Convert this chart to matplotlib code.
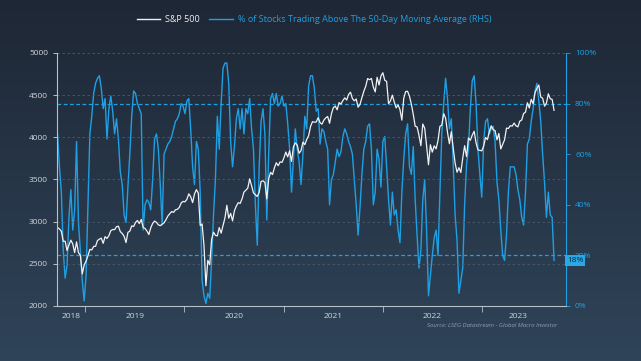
import numpy as np
import pandas as pd
import matplotlib
matplotlib.use('Agg')
import matplotlib.pyplot as plt
import matplotlib.dates as mdates
from matplotlib.colors import LinearSegmentedColormap
from matplotlib.lines import Line2D

plt.rcParams['font.family'] = ['Open Sans', 'DejaVu Sans']

# weekly closes, first week ending 2018-09-21
start_date = '2018-09-21'

sp500 = [
    # 2018
    2930, 2914, 2886, 2767, 2768, 2658, 2723, 2781, 2736, 2633, 2760, 2633, 2600, 2380, 2486,
    # 2019
    2532, 2596, 2671, 2665, 2707, 2708, 2776, 2793, 2804, 2743, 2822, 2801, 2834,
    2893, 2907, 2905, 2940, 2946, 2881, 2860, 2826, 2752, 2873, 2887, 2950, 2942,
    2990, 3014, 2977, 3026, 2932, 2919, 2889, 2847, 2926, 2979, 3007, 2992, 2962,
    2952, 2970, 2986, 3023, 3067, 3093, 3120, 3110, 3141, 3146, 3169, 3221, 3240,
    # 2020
    3235, 3265, 3330, 3295, 3226, 3328, 3380, 3338, 2954, 2972, 2711, 2240, 2541,
    2489, 2790, 2875, 2837, 2831, 2930, 2864, 2955, 3044, 3194, 3041, 3098, 3009,
    3130, 3185, 3225, 3216, 3271, 3351, 3373, 3397, 3508, 3427, 3341, 3319, 3298,
    3348, 3477, 3484, 3465, 3270, 3510, 3585, 3558, 3638, 3699, 3663, 3709, 3703, 3756,
    # 2021
    3825, 3768, 3841, 3714, 3887, 3934, 3907, 3811, 3842, 3943, 3913, 3975,
    4020, 4129, 4185, 4180, 4181, 4233, 4174, 4156, 4204, 4230, 4247, 4166, 4281,
    4352, 4370, 4327, 4412, 4395, 4437, 4468, 4442, 4509, 4535, 4459, 4433, 4455,
    4357, 4391, 4471, 4545, 4605, 4697, 4683, 4698, 4595, 4538, 4712, 4620, 4726, 4766,
    # 2022
    4677, 4663, 4398, 4432, 4500, 4419, 4349, 4385, 4329, 4204, 4463, 4543,
    4546, 4488, 4392, 4272, 4132, 4123, 4024, 3901, 4158, 4109, 3901, 3675, 3912,
    3825, 3899, 3863, 3962, 4130, 4145, 4280, 4228, 4058, 3924, 4067, 3873, 3693, 3586,
    3640, 3583, 3753, 3901, 3771, 3993, 3965, 4026, 4072, 3934, 3852, 3845, 3840,
    # 2023
    3895, 3999, 3973, 4071, 4136, 4090, 4079, 3970, 4046, 3862, 3917, 3971, 4109,
    4105, 4138, 4133, 4169, 4136, 4124, 4192, 4205, 4282, 4299, 4410, 4348, 4450,
    4399, 4530, 4580, 4620, 4478, 4464, 4370, 4406, 4516, 4457, 4450, 4320,
]

pct_above = [
    68, 55, 45, 22, 11, 16, 35, 46, 30, 38, 65, 33, 22, 10, 2, 12, 40, 68, 75, 84,
    88, 90, 91, 86, 78, 82, 66, 78, 83, 77, 68, 74, 66, 53, 48, 36, 33, 47, 60, 75,
    85, 84, 80, 78, 76,
    30, 40, 42, 41, 38, 50, 66, 68, 62, 48, 32, 60, 62, 64, 65, 67, 70, 73, 74, 76,
    80, 79, 76, 81, 82, 70, 55, 48, 65, 62, 45, 10, 4, 1, 5, 3, 18, 36, 50, 75,
    62, 80, 94, 96,
    96, 88, 65, 55, 63, 74, 78, 70, 78, 68, 78, 76, 82, 70, 62, 40, 24, 55, 73, 78,
    68, 34, 60, 82, 84, 80, 84, 79, 80, 83, 79, 80, 72, 62, 45, 58, 70, 62, 57, 48,
    60, 75, 70, 87, 91,
    91, 86, 77, 78, 64, 70, 69, 65, 62, 40, 50, 52, 57, 62, 59, 61, 67, 70, 68, 65,
    63, 60, 50, 40, 28, 39, 52, 62, 65, 71, 72, 62, 40, 45, 62, 58, 47, 65, 67, 55,
    42, 32, 45, 36,
    38, 30, 25, 45, 58, 68, 72, 55, 52, 63, 42, 28, 15, 22, 42, 50, 30, 4, 12, 20,
    27, 30, 20, 45, 68, 80, 90, 82, 70, 74, 56, 36, 26, 5, 10, 15, 40, 56, 62, 78,
    89, 91, 80, 62,
    52, 43, 65, 73, 74, 68, 70, 71, 65, 49, 42, 30, 20, 18, 28, 45, 55, 55, 55, 52,
    46, 42, 35, 32, 45, 64, 66, 73, 78, 85, 88, 81, 73, 60, 49, 35, 45, 36, 35, 18,
]

year_labels = ['2018', '2019', '2020', '2021', '2022', '2023']
year_label_dates = ['2018-11-09', '2019-07-02', '2020-07-01', '2021-07-02', '2022-07-02', '2023-05-12']

dates = pd.date_range(start_date, periods=len(sp500), freq='7D')

blue = '#1fa0e4'
white = '#f2f2f2'
grey = '#b8c0c8'

fig = plt.figure(figsize=(6.41, 3.61), dpi=100)

# background gradient
bg = fig.add_axes([0, 0, 1, 1], zorder=-10)
grad = np.linspace(0, 1, 256).reshape(-1, 1)
cmap = LinearSegmentedColormap.from_list('bg', ['#1e2735', '#2f4459'])
bg.imshow(grad, aspect='auto', cmap=cmap, extent=[0, 1, 0, 1], origin='upper')
bg.axis('off')

ax = fig.add_axes([0.0889, 0.1524, 0.7941, 0.7008])
ax2 = ax.twinx()
ax.set_zorder(ax2.get_zorder() + 1)
ax.patch.set_visible(False)
ax2.patch.set_visible(False)

ax2.plot(dates, pct_above, color=blue, lw=1.0)
ax2.axhline(80, color=blue, lw=0.9, ls=(0, (3, 2)))
ax2.axhline(20, color=blue, lw=0.9, ls=(0, (3, 2)))
ax.plot(dates, sp500, color=white, lw=0.9)

ax.set_ylim(2000, 5000)
ax.set_yticks(range(2000, 5001, 500))
ax2.set_ylim(0, 100)
ax2.set_yticks(range(0, 101, 20))
ax2.set_yticklabels([f'{v}%' for v in range(0, 101, 20)])
ax.set_xlim(pd.Timestamp('2018-09-19'), pd.Timestamp('2023-11-05'))

ax.grid(axis='y', color='#4b5a6b', ls=(0, (3, 3)), lw=0.6)

for s in ['top', 'right']:
    ax.spines[s].set_visible(False)
for s in ['top', 'left', 'bottom']:
    ax2.spines[s].set_visible(False)
ax.spines['left'].set_color(grey)
ax.spines['bottom'].set_color(grey)
ax.spines['left'].set_linewidth(0.8)
ax.spines['bottom'].set_linewidth(0.8)
ax2.spines['right'].set_color(blue)
ax2.spines['right'].set_linewidth(0.8)

ax.tick_params(axis='y', colors='#d0d5da', labelsize=6, length=3, width=0.6)
ax2.tick_params(axis='y', colors=blue, labelsize=6, length=3, width=0.6)

ax.xaxis.set_major_locator(mdates.YearLocator())
ax.xaxis.set_major_formatter(plt.NullFormatter())
ax.tick_params(axis='x', which='major', length=4, width=0.6, color=grey)
ax.set_xticks(pd.to_datetime(year_label_dates), minor=True)
ax.set_xticklabels(year_labels, minor=True)
ax.tick_params(axis='x', which='minor', length=0, labelsize=6, labelcolor='#d0d5da', pad=5)

# last value tag
last = pct_above[-1]
ax2.text(1.002, last, f'{last}%', transform=ax2.get_yaxis_transform(), ha='left', va='center',
         fontsize=6, color='#10263a', zorder=10, clip_on=False,
         bbox=dict(boxstyle='square,pad=0.2', fc='#29a8e8', ec='none'))

handles = [Line2D([], [], color=white, lw=1.0), Line2D([], [], color=blue, lw=1.0)]
fig.legend(handles, ['S&P 500', '% of Stocks Trading Above The 50-Day Moving Average (RHS)'],
           loc='center', bbox_to_anchor=(0.49, 0.945), ncol=2, frameon=False, fontsize=6.5,
           handlelength=2.6, handletextpad=0.6, columnspacing=1.0,
           labelcolor=[white, blue])

fig.text(0.869, 0.099, 'Source: LSEG Datastream - Global Macro Investor', ha='right', va='center',
         fontsize=4.3, style='italic', color='#8aa0b6')

fig.savefig('out.png', dpi=100)
